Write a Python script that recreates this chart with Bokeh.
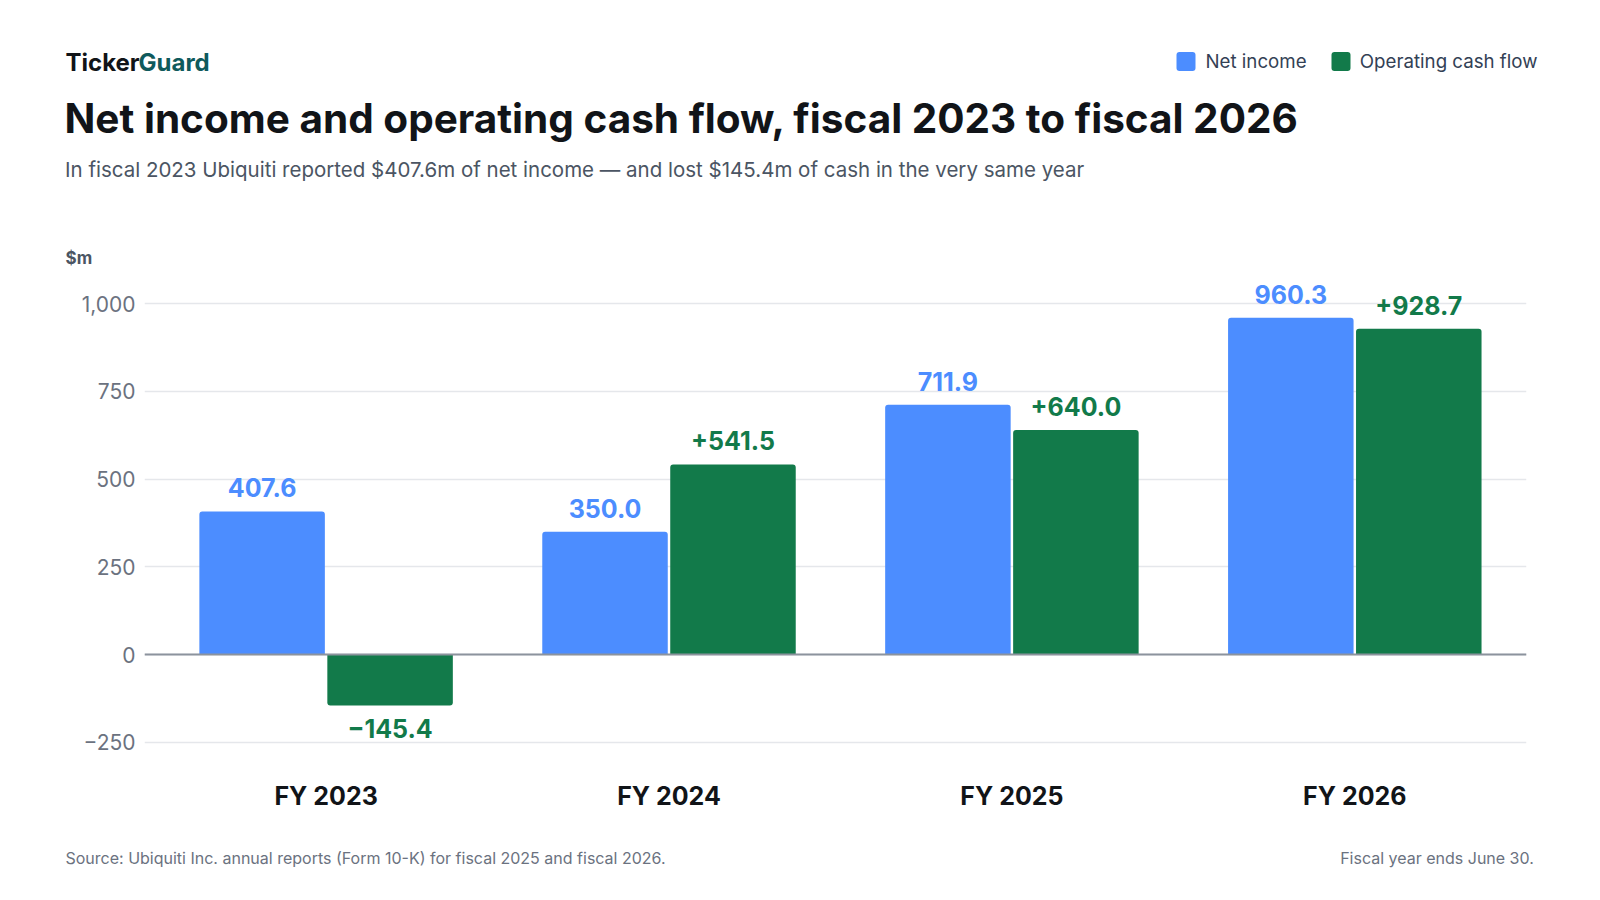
from bokeh.plotting import figure
from bokeh.models import Range1d, FixedTicker, Span, Label, ColumnDataSource
from bokeh.transform import dodge
from bokeh.core.properties import value
from bokeh.embed import file_html
from bokeh.resources import INLINE

# ---------------- data ----------------
categories = ["FY 2023", "FY 2024", "FY 2025", "FY 2026"]
series_names = ["Net income", "Operating cash flow"]
net_income = [407.6, 350.0, 711.9, 960.3]
operating_cash_flow = [-145.4, 541.5, 640.0, 928.7]
y_ticks = [-250, 0, 250, 500, 750, 1000]
y_tick_labels = ["\u2212250", "0", "250", "500", "750", "1,000"]

# ---------------- style ----------------
FONT = "Inter"
BLUE = "#4C8DFF"
GREEN = "#127A4A"
INK = "#111418"
TEAL = "#0F5A5C"
SUB = "#4B5563"
TICK = "#6B7280"
LEG = "#334155"
GRID = "#E5E7EB"
ZERO = "#8C939D"

W, H = 1600, 900
HEAD_B = 272      # header strip: page y 0..272
FOOT_T = 845      # footer strip: page y 845..900
FRAME_L, FRAME_R, FRAME_T, FRAME_B = 144, 1526, 275, 760   # page px
ZERO_PX = 654
PX_PER_UNIT_Y = 0.3508
PX_PER_CAT = 342.9
CAT0_PX = 325.6
OFFSET = 0.1866
BAR_W = 0.366

x_start = (FRAME_L - CAT0_PX) / PX_PER_CAT
x_end = (FRAME_R - CAT0_PX) / PX_PER_CAT
y_end = (ZERO_PX - FRAME_T) / PX_PER_UNIT_Y
y_start = (ZERO_PX - FRAME_B) / PX_PER_UNIT_Y


def strip(top, bottom):
    f = figure(width=W, height=bottom - top, x_range=Range1d(0, W), y_range=Range1d(bottom, top),
               output_backend="svg", toolbar_location=None, x_axis_location=None, y_axis_location=None,
               min_border=0, min_border_left=0, min_border_right=0, min_border_top=0, min_border_bottom=0)
    f.outline_line_color = None
    f.grid.visible = False
    f.background_fill_color = "white"
    f.border_fill_color = "white"
    return f


def lab(f, px, py, text, size, color, bold=False, align="left"):
    # py is the vertical centre of the capital letters
    f.add_layout(Label(x=px, y=py, text=text, text_font=FONT, text_font_size=size,
                       text_color=color, text_font_style="bold" if bold else "normal",
                       text_baseline="middle", text_align=align))


# ---------------- header ----------------
head = strip(0, HEAD_B)
lab(head, 65, 61.7, "Ticker", "24px", INK, bold=True)
lab(head, 138, 61.7, "Guard", "24px", TEAL, bold=True)
lab(head, 64, 117.7, "Net income and operating cash flow, fiscal 2023 to fiscal 2026", "40.5px", INK, bold=True)
lab(head, 64.5, 168.5, "In fiscal 2023 Ubiquiti reported $407.6m of net income \u2014 and lost $145.4m of cash in the very same year",
    "20.5px", SUB)
lab(head, 65, 257, "$m", "17px", SUB, bold=True)

# legend (drawn in header strip)
leg_src = ColumnDataSource(dict(left=[1176, 1331], right=[1195, 1350], top=[51.5, 51.5], bottom=[70.5, 70.5],
                                color=[BLUE, GREEN]))
head.quad(left="left", right="right", top="top", bottom="bottom", source=leg_src,
          fill_color="color", line_color=None, border_radius=3)
lab(head, 1205, 61.2, series_names[0], "18.7px", LEG)
lab(head, 1359.3, 61.2, series_names[1], "18.7px", LEG)

# ---------------- chart ----------------
p = figure(width=W, height=FOOT_T - HEAD_B, x_range=Range1d(x_start, x_end), y_range=Range1d(y_start, y_end),
           output_backend="svg", toolbar_location=None,
           min_border_left=FRAME_L, min_border_right=W - FRAME_R,
           min_border_top=FRAME_T - HEAD_B, min_border_bottom=FOOT_T - FRAME_B)
p.outline_line_color = None
p.background_fill_color = "white"
p.border_fill_color = "white"

xs = list(range(len(categories)))

p.yaxis.ticker = FixedTicker(ticks=y_ticks)
p.yaxis.major_label_overrides = {t: l for t, l in zip(y_ticks, y_tick_labels)}
p.yaxis.axis_line_color = None
p.yaxis.major_tick_line_color = None
p.yaxis.minor_tick_line_color = None
p.yaxis.major_tick_out = 0
p.yaxis.major_tick_in = 0
p.yaxis.major_label_standoff = 9
p.yaxis.major_label_text_font = FONT
p.yaxis.major_label_text_font_size = "21px"
p.yaxis.major_label_text_color = TICK

p.xaxis.ticker = FixedTicker(ticks=xs)
p.xaxis.major_label_overrides = {i: c for i, c in zip(xs, categories)}
p.xaxis.axis_line_color = None
p.xaxis.major_tick_line_color = None
p.xaxis.minor_tick_line_color = None
p.xaxis.major_tick_out = 0
p.xaxis.major_tick_in = 0
p.xaxis.major_label_standoff = 20
p.xaxis.major_label_text_font = FONT
p.xaxis.major_label_text_font_size = "25px"
p.xaxis.major_label_text_font_style = "bold"
p.xaxis.major_label_text_color = INK

p.xgrid.visible = False
p.ygrid.ticker = FixedTicker(ticks=y_ticks)
p.ygrid.grid_line_color = GRID
p.ygrid.grid_line_width = 1.5

src_ni = ColumnDataSource(dict(x=xs, top=net_income, label=[f"{v:.1f}" for v in net_income]))
pos = [i for i, v in enumerate(operating_cash_flow) if v >= 0]
neg = [i for i, v in enumerate(operating_cash_flow) if v < 0]
src_cf_pos = ColumnDataSource(dict(x=[xs[i] for i in pos], top=[operating_cash_flow[i] for i in pos],
                                   label=[f"+{operating_cash_flow[i]:.1f}" for i in pos]))
src_cf_neg = ColumnDataSource(dict(x=[xs[i] for i in neg], bottom=[operating_cash_flow[i] for i in neg],
                                   top=[0.0 for i in neg],
                                   label=[f"\u2212{abs(operating_cash_flow[i]):.1f}" for i in neg]))

p.vbar(x=dodge("x", -OFFSET), top="top", bottom=0, width=BAR_W, source=src_ni,
       fill_color=BLUE, line_color=None, border_radius=(3, 3, 0, 0))
p.vbar(x=dodge("x", OFFSET), top="top", bottom=0, width=BAR_W, source=src_cf_pos,
       fill_color=GREEN, line_color=None, border_radius=(3, 3, 0, 0))
p.vbar(x=dodge("x", OFFSET), top="top", bottom="bottom", width=BAR_W, source=src_cf_neg,
       fill_color=GREEN, line_color=None, border_radius=(0, 0, 3, 3))

common = dict(text_align="center", text_baseline="middle", text_font=value(FONT),
              text_font_size="25px", text_font_style="bold")
p.text(x=dodge("x", -OFFSET), y="top", text="label", source=src_ni, y_offset=-23.6,
       text_color=BLUE, **common)
p.text(x=dodge("x", OFFSET), y="top", text="label", source=src_cf_pos, y_offset=-23.6,
       text_color=GREEN, **common)
p.text(x=dodge("x", OFFSET), y="bottom", text="label", source=src_cf_neg, y_offset=22.6,
       text_color=GREEN, **common)

p.add_layout(Span(location=0, dimension="width", line_color=ZERO, line_width=2))

# ---------------- footer ----------------
foot = strip(FOOT_T, H)
lab(foot, 65, 857, "Source: Ubiquiti Inc. annual reports (Form 10-K) for fiscal 2025 and fiscal 2026.", "16px", TICK)
lab(foot, 1533.3, 857, "Fiscal year ends June 30.", "16px", TICK, align="right")

open("out.html", "w").write(file_html([head, p, foot], INLINE))
